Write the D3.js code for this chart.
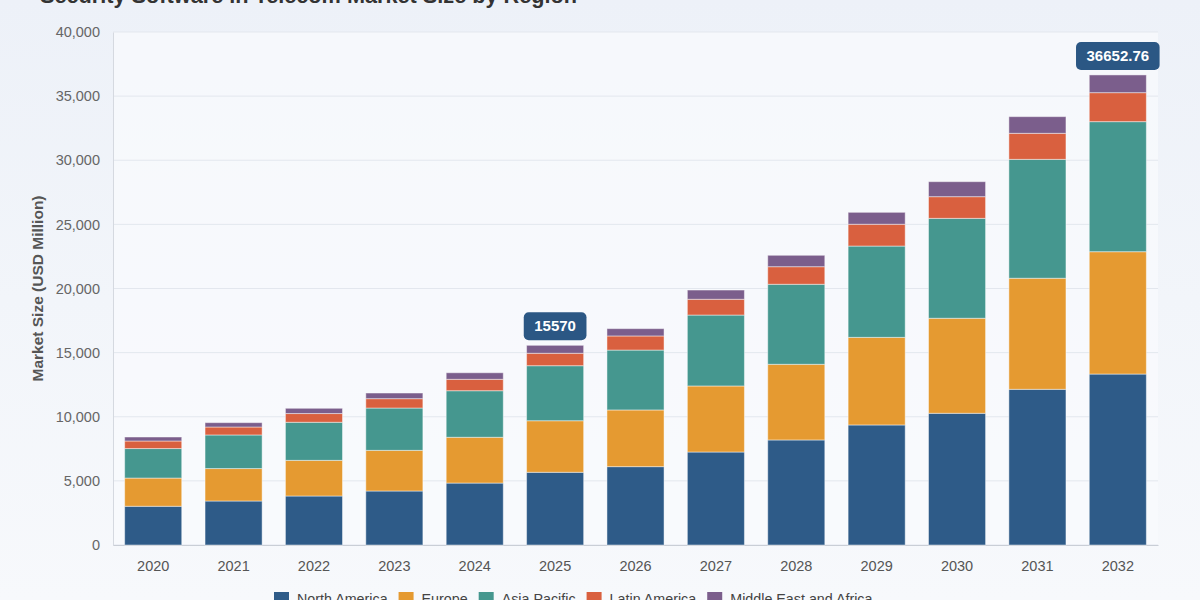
<!DOCTYPE html>
<html>
<head>
<meta charset="utf-8">
<script src="https://cdn.jsdelivr.net/npm/d3@7"></script>
<style>
  html, body { margin: 0; padding: 0; }
  body { width: 1200px; height: 600px; overflow: hidden; background: linear-gradient(#edf1f8, #f7f9fc); }
  svg { display: block; font-family: "Liberation Sans", Arial, sans-serif; }
</style>
</head>
<body>
<svg id="chart" width="1200" height="600"></svg>
<script>
// chart data
const years = ["2020", "2021", "2022", "2023", "2024", "2025", "2026", "2027", "2028", "2029", "2030", "2031", "2032"];
const regions = ["North America", "Europe", "Asia Pacific", "Latin America", "Middle East and Africa"];
const northAmerica = [3020, 3430, 3820, 4210, 4830, 5670, 6110, 7250, 8190, 9360, 10270, 12140, 13330];
const europe = [2200, 2530, 2780, 3170, 3570, 4020, 4420, 5150, 5900, 6830, 7410, 8660, 9540];
const asiaPacific = [2300, 2620, 2970, 3300, 3630, 4290, 4670, 5530, 6240, 7120, 7790, 9270, 10140];
const latinAmerica = [590, 620, 680, 730, 890, 970, 1100, 1230, 1370, 1700, 1690, 2030, 2260];
const middleEastAfrica = [310, 340, 410, 440, 510, 620, 570, 720, 890, 930, 1170, 1300, 1382.76];
const yTicks = [0, 5000, 10000, 15000, 20000, 25000, 30000, 35000, 40000];
const callouts = [{ year: "2025", label: "15570" }, { year: "2032", label: "36652.76" }];

const colors = ["#2e5b88", "#e59a31", "#45978f", "#d9603f", "#7b5e8c"];
const series = [northAmerica, europe, asiaPacific, latinAmerica, middleEastAfrica];

let margin = { top: 32, right: 42, bottom: 55, left: 113 };
const svg = d3.select("#chart");
const width = 1200 - margin.left - margin.right;
const height = 600 - margin.top - margin.bottom;

const rows = years.map(function(yr, i) {
  const row = { year: yr };
  regions.forEach(function(r, j) { row[r] = series[j][i]; });
  return row;
});
const stacked = d3.stack().keys(regions)(rows);

const x = d3.scaleBand().domain(years).range([0, width]).paddingInner(0.29).paddingOuter(0.145);
const y = d3.scaleLinear().domain([0, 40000]).range([height, 0]);

// title (sits mostly above the visible area, as in the reference)
svg.append("text")
  .attr("x", 40).attr("y", 3)
  .attr("font-size", "21.7px").attr("font-weight", "bold").attr("fill", "#333")
  .text("Security Software in Telecom Market Size by Region");

const g = svg.append("g").attr("transform", `translate(${margin.left}, ${margin.top})`);

g.append("rect").attr("width", width).attr("height", height).attr("fill", "#fafbfd").attr("opacity", 0.7);

// grid
g.append("g")
  .selectAll("line")
  .data(yTicks)
  .join("line")
  .attr("x1", 0).attr("x2", width)
  .attr("y1", d => y(d)).attr("y2", d => y(d))
  .attr("stroke", "#e3e7ee").attr("stroke-width", 1);

// y axis
const yAxis = g.append("g")
  .call(d3.axisLeft(y).tickValues(yTicks).tickFormat(d3.format(",")).tickSize(0).tickPadding(13));
yAxis.select(".domain").attr("stroke", "#d5d9e0");
yAxis.selectAll("text").attr("font-size", "14.5px").attr("fill", "#666").attr("font-family", "Liberation Sans, Arial, sans-serif");

// x axis
const xAxis = g.append("g")
  .attr("transform", `translate(0, ${height})`)
  .call(d3.axisBottom(x).tickSize(0).tickPadding(16));
xAxis.select(".domain").attr("stroke", "#c9ced6");
xAxis.selectAll("text").attr("font-size", "14.5px").attr("fill", "#555").attr("font-family", "Liberation Sans, Arial, sans-serif");

svg.append("text")
  .attr("transform", `translate(43, ${margin.top + height / 2}) rotate(-90)`)
  .attr("text-anchor", "middle")
  .attr("font-size", "15.5px").attr("font-weight", "bold").attr("fill", "#555")
  .text("Market Size (USD Million)");

// stacked bars
g.append("g")
  .selectAll("g")
  .data(stacked)
  .join("g")
  .attr("fill", (d, i) => colors[i])
  .selectAll("rect")
  .data(d => d)
  .join("rect")
  .attr("x", d => x(d.data.year))
  .attr("y", d => y(d[1]))
  .attr("width", x.bandwidth())
  .attr("height", d => y(d[0]) - y(d[1]))
  .attr("stroke", "rgba(255,255,255,0.45)")
  .attr("stroke-width", 1);

// value callouts
const topLayer = stacked[stacked.length - 1];
callouts.forEach(function(c) {
  const i = years.indexOf(c.year);
  const cx = x(c.year) + x.bandwidth() / 2;
  const cy = y(topLayer[i][1]) - 5;
  const box = g.append("rect").attr("fill", "#2b5784").attr("rx", 5);
  const t = g.append("text")
    .attr("x", cx).attr("y", cy - 9)
    .attr("text-anchor", "middle")
    .attr("font-size", "15px").attr("font-weight", "bold").attr("fill", "#fff")
    .text(c.label);
  const w = t.node().getComputedTextLength() + 21;
  box.attr("x", cx - w / 2).attr("y", cy - 28)
    .attr("width", w).attr("height", 28);
});

// legend
const legend = svg.append("g").attr("transform", "translate(274, 592)");
let lx = 0;
regions.forEach(function(r, i) {
  const item = legend.append("g").attr("transform", `translate(${lx}, 0)`);
  item.append("rect").attr("width", 15).attr("height", 14).attr("fill", colors[i]);
  const t = item.append("text")
    .attr("x", 23).attr("y", 12)
    .attr("font-size", "14.3px").attr("fill", "#444")
    .text(r);
  lx += 23 + t.node().getComputedTextLength() + 11;
});
</script>
</body>
</html>
